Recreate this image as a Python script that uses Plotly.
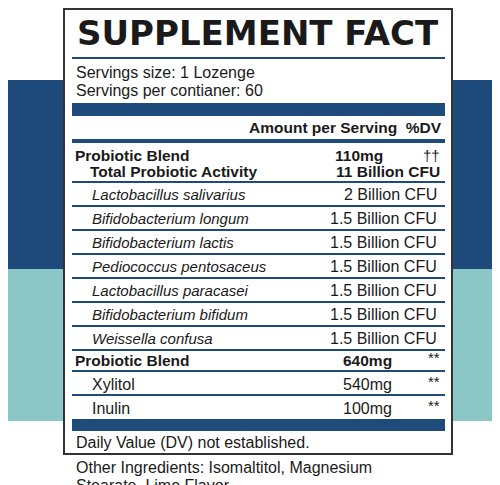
import plotly.graph_objects as go

title = "SUPPLEMENT FACT"
serving_lines = ["Servings size: 1 Lozenge", "Servings per contianer: 60"]
header = "Amount per Serving  %DV"
strains = ["Lactobacillus salivarius", "Bifidobacterium longum", "Bifidobacterium lactis",
           "Pediococcus pentosaceus", "Lactobacillus paracasei", "Bifidobacterium bifidum",
           "Weissella confusa"]
strain_cfu = ["2 Billion CFU", "1.5 Billion CFU", "1.5 Billion CFU", "1.5 Billion CFU",
              "1.5 Billion CFU", "1.5 Billion CFU", "1.5 Billion CFU"]
blend_items = ["Xylitol", "Inulin"]
blend_amounts = ["540mg", "100mg"]
footer = "Daily Value (DV) not established."
other = ["Other Ingredients: Isomaltitol, Magnesium", "Stearate, Lime Flavor"]

BLUE = "#1f4a7c"
TEAL = "#8cc7c7"
INK = "#1a1a1a"
FONT = "Liberation Sans"

fig = go.Figure()
shapes = []
ann = []


def rect(x0, y0, x1, y1, color, line=None):
    shapes.append(dict(type="rect", x0=x0, y0=y0, x1=x1, y1=y1, fillcolor=color,
                       line=dict(width=0) if line is None else line, layer="below"))


def hline(y, w=2):
    shapes.append(dict(type="line", x0=64, x1=437, y0=y, y1=y, line=dict(color=BLUE, width=w)))


def text(x, y, s, size=15, anchor="left", bold=False, italic=False, font=FONT):
    if bold:
        s = "<b>" + s + "</b>"
    if italic:
        s = "<i>" + s + "</i>"
    ann.append(dict(x=x, y=y, text=s, showarrow=False, xanchor=anchor, yanchor="middle",
                    font=dict(family=font, size=size, color=INK)))


# background bands
rect(0, 72, 500, 261, BLUE)
rect(0, 261, 500, 413, TEAL)
# label box
rect(56, 1, 444, 446, "white", line=dict(color="#333", width=2))

text(250, 25, title, size=34, anchor="center", bold=True, font="DejaVu Sans")
hline(50)
text(66, 64, serving_lines[0], size=16)
text(66, 82, serving_lines[1], size=16)
rect(64, 95, 437, 108, BLUE)
text(436, 119, header, size=15.5, anchor="right", bold=True)
hline(133, 4)
text(65, 147, "Probiotic Blend", size=15.5, bold=True)
text(80, 163, "Total Probiotic Activity", size=15.5, bold=True)
text(325, 147, "110mg", size=15.5, bold=True)
text(434, 147, "††", size=15, anchor="right")
text(434, 163, "11 Billion CFU", size=15.5, anchor="right", bold=True)
hline(174)

y = 186
for name, cfu in zip(strains, strain_cfu):
    text(82, y, name, size=15, italic=True)
    text(431, y, cfu, size=16, anchor="right")
    hline(y + 12)
    y += 24

text(65, 352, "Probiotic Blend", size=15.5, bold=True)
text(386, 352, "640mg", size=15.5, anchor="right", bold=True)
text(434, 349, "**", size=15, anchor="right")
hline(363)
y = 376
for name, amt in zip(blend_items, blend_amounts):
    text(82, y, name, size=16)
    text(386, y, amt, size=16, anchor="right")
    text(434, y - 3, "**", size=15, anchor="right")
    if name != blend_items[-1]:
        hline(y + 11)
    y += 24
rect(64, 411, 437, 423, BLUE)
text(66, 434, footer, size=16)
text(66, 459, other[0], size=16)
text(66, 477, other[1], size=16)

fig.update_layout(
    width=500, height=485, margin=dict(l=0, r=0, t=0, b=0, autoexpand=False),
    paper_bgcolor="white", plot_bgcolor="white",
    xaxis=dict(range=[0, 500], visible=False, fixedrange=True),
    yaxis=dict(range=[485, 0], visible=False, fixedrange=True),
    shapes=shapes, annotations=ann, showlegend=False,
)
fig.write_html("out.html", config={"displayModeBar": False})
